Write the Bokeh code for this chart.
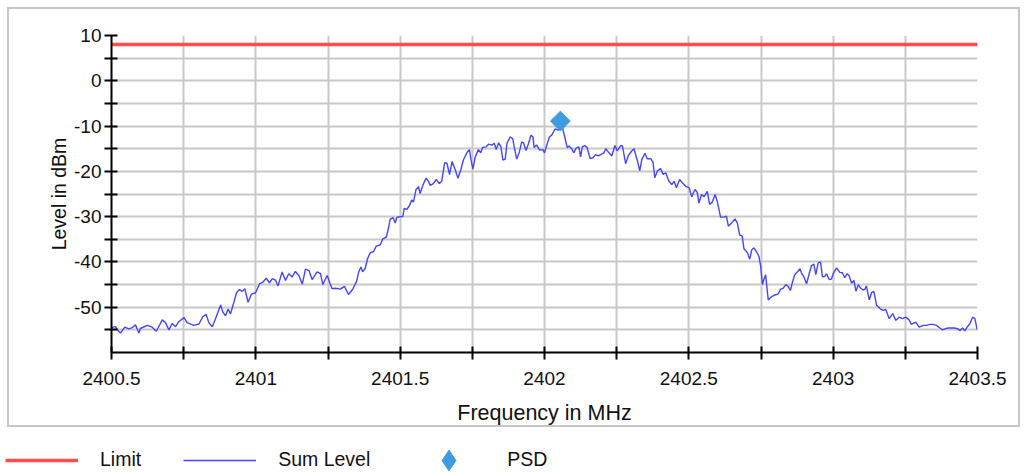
from bokeh.plotting import figure
from bokeh.layouts import column, row
from bokeh.models import Range1d, Legend, LegendItem, FixedTicker
from bokeh.embed import file_html
from bokeh.resources import INLINE

# ---------------- data ----------------
freq_mhz = [
    2400.500, 2400.514, 2400.523, 2400.531, 2400.546, 2400.560, 2400.572, 2400.583, 2400.595, 2400.600,
    2400.624, 2400.641, 2400.655, 2400.676, 2400.687, 2400.699, 2400.710, 2400.722, 2400.733, 2400.751,
    2400.762, 2400.785, 2400.803, 2400.816, 2400.828, 2400.837, 2400.849, 2400.860, 2400.878, 2400.886,
    2400.895, 2400.904, 2400.912, 2400.924, 2400.933, 2400.943, 2400.953, 2400.962, 2400.973, 2400.985,
    2400.999, 2401.013, 2401.024, 2401.036, 2401.047, 2401.057, 2401.068, 2401.077, 2401.091, 2401.103,
    2401.114, 2401.126, 2401.137, 2401.149, 2401.161, 2401.172, 2401.184, 2401.195, 2401.212, 2401.224,
    2401.232, 2401.247, 2401.264, 2401.276, 2401.293, 2401.307, 2401.321, 2401.335, 2401.349,
    2401.356, 2401.364, 2401.370, 2401.379, 2401.387, 2401.396, 2401.408, 2401.417, 2401.431, 2401.440,
    2401.452, 2401.460, 2401.465, 2401.475, 2401.483, 2401.488, 2401.500, 2401.509, 2401.514, 2401.523,
    2401.532, 2401.540, 2401.546, 2401.555, 2401.564, 2401.569, 2401.581, 2401.590, 2401.598, 2401.604,
    2401.615, 2401.625, 2401.636, 2401.644, 2401.654, 2401.662, 2401.671, 2401.680, 2401.691, 2401.700,
    2401.710, 2401.719, 2401.731, 2401.740, 2401.745, 2401.752, 2401.760, 2401.771, 2401.779, 2401.786,
    2401.798, 2401.806, 2401.818, 2401.826, 2401.833, 2401.841, 2401.849, 2401.856, 2401.864, 2401.870,
    2401.881, 2401.890, 2401.895, 2401.904, 2401.913, 2401.921, 2401.927, 2401.936, 2401.945, 2401.953,
    2401.960, 2401.964, 2401.973, 2401.983, 2401.994, 2402.000, 2402.008, 2402.017, 2402.025, 2402.037,
    2402.048, 2402.062,
    2402.079, 2402.085, 2402.094, 2402.102, 2402.110, 2402.119, 2402.125, 2402.131, 2402.140, 2402.148,
    2402.158, 2402.168, 2402.177, 2402.186, 2402.195, 2402.206, 2402.212, 2402.221, 2402.233, 2402.244,
    2402.252, 2402.264, 2402.270, 2402.281, 2402.290, 2402.302, 2402.310, 2402.322, 2402.330, 2402.337,
    2402.348, 2402.356, 2402.368, 2402.376, 2402.382, 2402.391, 2402.402, 2402.411, 2402.420, 2402.431,
    2402.441, 2402.449, 2402.457, 2402.468, 2402.477, 2402.489, 2402.501, 2402.510, 2402.521, 2402.529,
    2402.535, 2402.544, 2402.553, 2402.564, 2402.572, 2402.581, 2402.591, 2402.599, 2402.610, 2402.622,
    2402.630, 2402.637, 2402.648, 2402.660, 2402.668, 2402.676, 2402.685, 2402.691, 2402.703, 2402.711,
    2402.718, 2402.726, 2402.734, 2402.743, 2402.749, 2402.755, 2402.760, 2402.766,
    2402.775, 2402.786, 2402.798, 2402.809, 2402.818, 2402.827, 2402.836, 2402.844, 2402.852, 2402.858,
    2402.867, 2402.875, 2402.885, 2402.890, 2402.898, 2402.908, 2402.917, 2402.925, 2402.933, 2402.940,
    2402.948, 2402.956, 2402.963, 2402.971, 2402.977, 2402.986, 2402.994, 2403.000, 2403.012, 2403.023,
    2403.032, 2403.040, 2403.048, 2403.055, 2403.064, 2403.072, 2403.079, 2403.087, 2403.095, 2403.104,
    2403.110, 2403.115, 2403.125, 2403.133, 2403.141, 2403.150, 2403.162, 2403.173, 2403.182, 2403.194,
    2403.206, 2403.217, 2403.229, 2403.240, 2403.252, 2403.263, 2403.271, 2403.279, 2403.286, 2403.298,
    2403.312, 2403.323, 2403.335, 2403.346, 2403.358, 2403.370, 2403.379, 2403.387, 2403.398, 2403.410,
    2403.421, 2403.433, 2403.439, 2403.448, 2403.456, 2403.464, 2403.473, 2403.483, 2403.491, 2403.499,
]
sum_level_dbm = [
    -54.5, -54.3, -55.2, -55.7, -54.4, -54.8, -54.5, -53.9, -55.7, -54.7,
    -54.0, -54.4, -55.3, -52.8, -53.4, -55.0, -53.6, -54.3, -53.2, -52.3,
    -53.4, -54.0, -53.7, -52.1, -51.6, -53.4, -54.3, -52.6, -49.5, -51.1,
    -51.9, -50.4, -51.5, -48.9, -46.8, -46.1, -46.5, -45.9, -48.9, -47.1,
    -46.8, -44.8, -44.5, -43.6, -44.6, -43.7, -44.0, -45.3, -42.2, -44.1,
    -42.6, -43.3, -42.1, -43.0, -44.9, -41.6, -41.9, -43.9, -42.2, -42.6,
    -45.0, -43.0, -45.9, -45.8, -46.0, -45.4, -47.2, -46.1, -44.3,
    -42.3, -41.1, -42.2, -41.4, -39.3, -38.0, -37.7, -36.5, -36.2, -34.9,
    -34.5, -32.4, -30.6, -30.2, -31.4, -30.2, -30.0, -30.0, -28.2, -28.4,
    -27.6, -26.3, -26.8, -24.0, -23.4, -24.9, -22.7, -21.5, -22.2, -23.1,
    -22.7, -21.8, -22.7, -22.2, -18.1, -18.2, -20.7, -17.8, -19.7, -21.5,
    -19.7, -17.5, -15.9, -15.2, -17.3, -19.5, -16.8, -15.2, -15.9, -14.7,
    -14.6, -14.0, -14.2, -13.8, -15.2, -13.7, -14.6, -17.5, -17.3, -13.8,
    -12.4, -12.8, -14.6, -17.3, -15.7, -13.5, -13.7, -15.4, -13.8, -12.0,
    -12.4, -14.7, -14.2, -15.3, -15.2, -15.9, -14.2, -12.4, -12.0, -10.6,
    -10.9, -10.2,
    -14.8, -14.4, -15.0, -15.9, -14.8, -14.6, -16.8, -14.6, -14.3, -14.8,
    -17.2, -17.0, -16.3, -16.6, -16.3, -15.9, -15.0, -15.7, -16.6, -14.3,
    -15.5, -14.3, -14.4, -18.3, -16.6, -15.5, -15.0, -17.7, -19.9, -17.4,
    -16.0, -17.2, -17.2, -18.0, -21.4, -19.9, -19.4, -20.7, -20.3, -22.2,
    -22.9, -22.2, -23.6, -21.8, -22.5, -23.3, -23.6, -25.6, -24.0, -24.6,
    -27.0, -25.1, -25.6, -24.4, -27.3, -26.8, -25.1, -26.8, -30.1, -30.1,
    -29.9, -32.1, -31.4, -30.5, -31.4, -34.0, -34.3, -37.1, -38.0, -39.4,
    -37.3, -36.9, -37.7, -38.8, -41.0, -45.0, -43.9, -42.8,
    -48.4, -47.7, -47.3, -47.1, -46.0, -45.8, -45.0, -45.4, -46.3, -44.7,
    -42.8, -42.3, -41.5, -42.4, -43.2, -44.8, -42.6, -40.8, -40.5, -42.8,
    -40.2, -40.0, -43.3, -43.2, -42.6, -43.9, -43.8, -42.6, -41.3, -42.3,
    -42.4, -43.5, -42.6, -43.0, -44.7, -44.1, -46.5, -45.0, -45.8, -46.2,
    -46.0, -45.3, -48.4, -46.8, -46.5, -49.5, -50.3, -50.7, -50.5, -52.5,
    -51.4, -52.9, -52.2, -52.5, -52.2, -52.8, -53.8, -53.5, -53.3, -54.4,
    -54.0, -54.0, -53.8, -53.8, -54.0, -54.6, -55.0, -54.8, -54.6, -54.6,
    -54.6, -54.8, -55.2, -54.6, -55.2, -54.4, -53.7, -52.2, -52.5, -55.0,
]
limit_freq = [2400.5, 2403.5]
limit_dbm = [8, 8]
psd_freq = [2402.055]
psd_dbm = [-8.9]

x_ticks = [2400.5, 2401.0, 2401.5, 2402.0, 2402.5, 2403.0, 2403.5]
x_tick_labels = ["2400.5", "2401", "2401.5", "2402", "2402.5", "2403", "2403.5"]
x_minor = [2400.75, 2401.25, 2401.75, 2402.25, 2402.75, 2403.25]
y_ticks = [-50, -40, -30, -20, -10, 0, 10]
y_tick_labels = ["-50", "-40", "-30", "-20", "-10", "0", "10"]
y_minor = [-55, -45, -35, -25, -15, -5, 5]

legend_labels = ["Limit", "Sum Level", "PSD"]

FONT = "Liberation Sans"
TXT = "#111111"
RED = "#ff4d4d"
BLUE = "#4545ff"
PSD_COL = "#3d9be0"

# ---------------- chart ----------------
W1, H1 = 1013, 420
p = figure(width=W1, height=H1, output_backend="svg", toolbar_location=None,
           x_range=Range1d(2400.5, 2403.5), y_range=Range1d(-60, 10),
           min_border_left=104, min_border_right=43, min_border_top=28,
           min_border_bottom=H1 - 28 - 317, margin=(7, 6, 0, 7))
p.outline_line_color = None
p.background_fill_color = "white"
p.border_fill_color = None
p.styles = {"box-shadow": "inset 0 0 0 2px #c6c6c6", "background-color": "white"}

for ax, ticks, minor, labels in ((p.xaxis[0], x_ticks, x_minor, x_tick_labels),
                                 (p.yaxis[0], y_ticks, y_minor, y_tick_labels)):
    ax.ticker = FixedTicker(ticks=ticks, minor_ticks=minor)
    ax.major_label_overrides = {t: s for t, s in zip(ticks, labels)}
    ax.axis_line_color = "black"
    ax.axis_line_width = 2
    ax.major_tick_line_color = "black"
    ax.minor_tick_line_color = "black"
    ax.major_tick_line_width = 2
    ax.minor_tick_line_width = 2
    ax.major_tick_in = 6
    ax.major_tick_out = 7
    ax.minor_tick_in = 6
    ax.minor_tick_out = 7
    ax.major_label_text_font = FONT
    ax.major_label_text_font_size = "19px"
    ax.major_label_text_color = TXT
    ax.axis_label_text_font = FONT
    ax.axis_label_text_font_style = "normal"
    ax.axis_label_text_color = TXT

p.xaxis[0].major_label_standoff = 12
p.xaxis[0].axis_label = "Frequency in MHz"
p.xaxis[0].axis_label_text_font_size = "21.5px"
p.xaxis[0].axis_label_standoff = 13
p.yaxis[0].major_label_standoff = 3
p.yaxis[0].axis_label = "Level in dBm"
p.yaxis[0].axis_label_text_font_size = "19.5px"
p.yaxis[0].axis_label_standoff = 1

for gr in (p.xgrid[0], p.ygrid[0]):
    gr.grid_line_color = "#c8c8c8"
    gr.grid_line_width = 2
    gr.minor_grid_line_color = "#c8c8c8"
    gr.minor_grid_line_width = 2

p.line(freq_mhz, sum_level_dbm, line_color=BLUE, line_width=1.4)
p.line(limit_freq, limit_dbm, line_color=RED, line_width=3.5)
p.scatter(psd_freq, psd_dbm, marker="square", size=14, angle=0.7853981634,
          fill_color=PSD_COL, line_color=PSD_COL)

# ---------------- legend strip ----------------
W2, H2 = 1026, 45
lg = figure(width=W2, height=H2, output_backend="svg", toolbar_location=None,
            x_range=Range1d(0, 1), y_range=Range1d(0, 1),
            x_axis_type=None, y_axis_type=None,
            min_border=0, min_border_left=0, min_border_right=0,
            min_border_top=0, min_border_bottom=0)
lg.outline_line_color = None
lg.grid.visible = False
lg.border_fill_color = "white"
lg.background_fill_color = "white"
# key glyphs only: their single point lies outside the strip's visible range
k_lim = lg.line(x=[-5, -4], y=[-5, -5], line_color=RED, line_width=3.5)
k_sum = lg.line(x=[-5, -4], y=[-5, -5], line_color=BLUE, line_width=1.4)
k_psd = lg.scatter(x=[-5], y=[-5], marker="diamond", size=21,
                   fill_color=PSD_COL, line_color=PSD_COL)
legend = Legend(items=[LegendItem(label=legend_labels[0], renderers=[k_lim]),
                       LegendItem(label=legend_labels[1], renderers=[k_sum]),
                       LegendItem(label=legend_labels[2], renderers=[k_psd])],
                orientation="horizontal", location=(5, -13.5),
                glyph_width=73, glyph_height=52, label_standoff=22, spacing=42,
                padding=0, margin=0, border_line_color=None, background_fill_alpha=0,
                label_text_font=FONT, label_text_font_size="19.5px",
                label_text_color=TXT)
lg.add_layout(legend, "center")

layout = column(p, row(lg), spacing=0)
open("out.html", "w").write(file_html(layout, INLINE))
